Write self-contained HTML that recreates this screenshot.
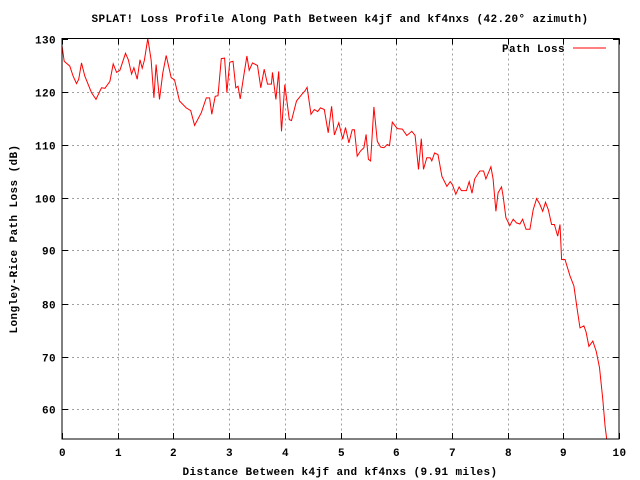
<!DOCTYPE html>
<html><head><meta charset="utf-8"><style>
body{margin:0;background:#fff}
svg{display:block}
text{font-family:"Liberation Mono","DejaVu Sans Mono",monospace;font-size:11px;font-weight:bold;fill:#000;letter-spacing:0.4px}
</style></head><body>
<svg id="chart" width="640" height="480" xmlns="http://www.w3.org/2000/svg">
<rect width="640" height="480" fill="#fff"/>
<g id="grid"></g>
<g id="ticks"></g>
<polyline id="series" fill="none" stroke="#ff0000" stroke-width="1"/>
<rect x="62" y="38.5" width="557" height="400.5" fill="none" stroke="#000" stroke-width="1"/>
<text x="340" y="22" text-anchor="middle">SPLAT! Loss Profile Along Path Between k4jf and kf4nxs (42.20° azimuth)</text>
<text x="340" y="475" text-anchor="middle">Distance Between k4jf and kf4nxs (9.91 miles)</text>
<text x="17" y="239" text-anchor="middle" transform="rotate(-90 17 239)">Longley-Rice Path Loss (dB)</text>
<g>
<text x="565" y="52" text-anchor="end">Path Loss</text>
<line x1="573" y1="48" x2="606" y2="48" stroke="#ff0000"/>
</g>
</svg>
<script>
const dist=[0,0.04,0.14,0.20,0.26,0.30,0.35,0.41,0.53,0.61,0.71,0.77,0.86,0.92,0.98,1.04,1.14,1.19,1.25,1.29,1.35,1.40,1.44,1.48,1.54,1.60,1.65,1.69,1.75,1.81,1.87,1.96,2.02,2.11,2.23,2.31,2.38,2.50,2.59,2.65,2.69,2.75,2.80,2.86,2.92,2.96,3.01,3.07,3.12,3.16,3.20,3.26,3.32,3.36,3.42,3.51,3.57,3.63,3.69,3.76,3.78,3.84,3.89,3.94,4.00,4.08,4.12,4.21,4.31,4.36,4.40,4.47,4.53,4.59,4.64,4.71,4.78,4.84,4.89,4.97,5.04,5.09,5.15,5.21,5.25,5.30,5.36,5.42,5.46,5.50,5.54,5.60,5.66,5.72,5.78,5.84,5.88,5.93,6.02,6.11,6.19,6.28,6.34,6.40,6.45,6.49,6.55,6.61,6.64,6.69,6.75,6.82,6.91,6.97,7.01,7.07,7.13,7.17,7.26,7.31,7.36,7.41,7.50,7.57,7.61,7.70,7.74,7.79,7.83,7.89,7.92,7.97,8.04,8.10,8.16,8.22,8.27,8.33,8.40,8.46,8.52,8.58,8.63,8.68,8.73,8.79,8.84,8.90,8.94,8.97,9.03,9.12,9.19,9.25,9.30,9.37,9.41,9.46,9.53,9.59,9.65,9.71,9.75,9.78];
const loss=[128.7,125.7,124.8,122.9,121.5,122.3,125.4,122.9,119.8,118.5,120.7,120.6,121.9,125.2,123.6,124.0,127.2,126.0,123.3,124.5,122.3,126.0,124.4,125.9,130.0,126.0,118.8,125.1,118.5,123.5,126.8,122.6,122.2,118.2,116.9,116.4,113.6,116.0,118.8,118.8,115.7,119.1,119.2,126.2,126.3,119.8,125.5,125.7,120.7,121.0,118.6,122.8,126.7,124.0,125.4,124.9,120.7,124.2,121.4,121.4,123.6,118.5,123.8,112.5,121.3,114.7,114.5,118.2,119.5,120.1,120.8,115.7,116.6,116.2,116.9,116.6,112.2,117.2,111.8,114.1,111.0,113.2,110.3,112.8,112.8,107.8,108.8,109.4,111.9,107.2,106.9,117.1,110.6,109.5,109.4,110.0,109.8,114.2,113.0,112.9,111.7,112.5,111.7,105.3,111.1,105.3,107.5,107.5,106.9,108.4,108.1,104.0,102.1,103.0,102.4,100.6,102.0,101.3,101.3,103.0,100.8,103.5,105.0,105.0,103.5,105.8,103.5,97.4,100.9,102.0,100.3,96.2,94.7,95.9,95.2,95.0,95.9,94.0,94.0,97.7,99.8,98.7,97.4,99.1,97.7,94.9,94.9,92.7,94.9,88.3,88.3,85.2,83.3,78.9,75.4,75.8,74.6,71.9,72.9,71.0,67.9,61.9,56.8,54.3];
const xTicks=[0,1,2,3,4,5,6,7,8,9,10];
const yTicks=[60,70,80,90,100,110,120,130];
const X0=62,X1=619,Y0=439,Y1=38.5,XMIN=0,XMAX=10,YMAX=130,YMIN=130-400.5/5.3;
const sx=v=>X0+(v-XMIN)/(XMAX-XMIN)*(X1-X0);
const sy=v=>Y0-(v-YMIN)/(YMAX-YMIN)*(Y0-Y1);
const NS='http://www.w3.org/2000/svg';
const grid=document.getElementById('grid'),ticks=document.getElementById('ticks');
function mk(tag,attrs,parent){const e=document.createElementNS(NS,tag);for(const k in attrs)e.setAttribute(k,attrs[k]);parent.appendChild(e);return e;}
xTicks.forEach(t=>{const x=Math.round(sx(t))+0.5;
 if(t>XMIN&&t<XMAX){const g=mk('line',{x1:x,y1:Y1,x2:x,y2:Y0,stroke:'#a0a0a0','stroke-dasharray':'2,3'},grid);
 
 }
 const a=mk('line',{x1:x,y1:Y0,x2:x,y2:Y0-6,stroke:'#000'},ticks);
 
 
 const b=mk('line',{x1:x,y1:Y1,x2:x,y2:Y1+6,stroke:'#000'},ticks);
 
 
 const l=mk('text',{x:x,y:Y0+17,'text-anchor':'middle'},ticks);l.textContent=t;
 
 
});
yTicks.forEach(t=>{const y=Math.round(sy(t))+0.5;
 if(t<YMAX){const g=mk('line',{x1:X0,y1:y,x2:X1,y2:y,stroke:'#a0a0a0','stroke-dasharray':'2,3'},grid);
 
 }
 const a=mk('line',{x1:X0,y1:y,x2:X0+6,y2:y,stroke:'#000'},ticks);
 
 
 const b=mk('line',{x1:X1,y1:y,x2:X1-6,y2:y,stroke:'#000'},ticks);
 
 
 const l=mk('text',{x:X0-6,y:y+4,'text-anchor':'end'},ticks);l.textContent=t;
 
 
});
document.getElementById('series').setAttribute('points',dist.map((d,i)=>sx(d).toFixed(1)+','+Math.min(Y0,sy(loss[i])).toFixed(1)).join(' '));
</script>
</body></html>
